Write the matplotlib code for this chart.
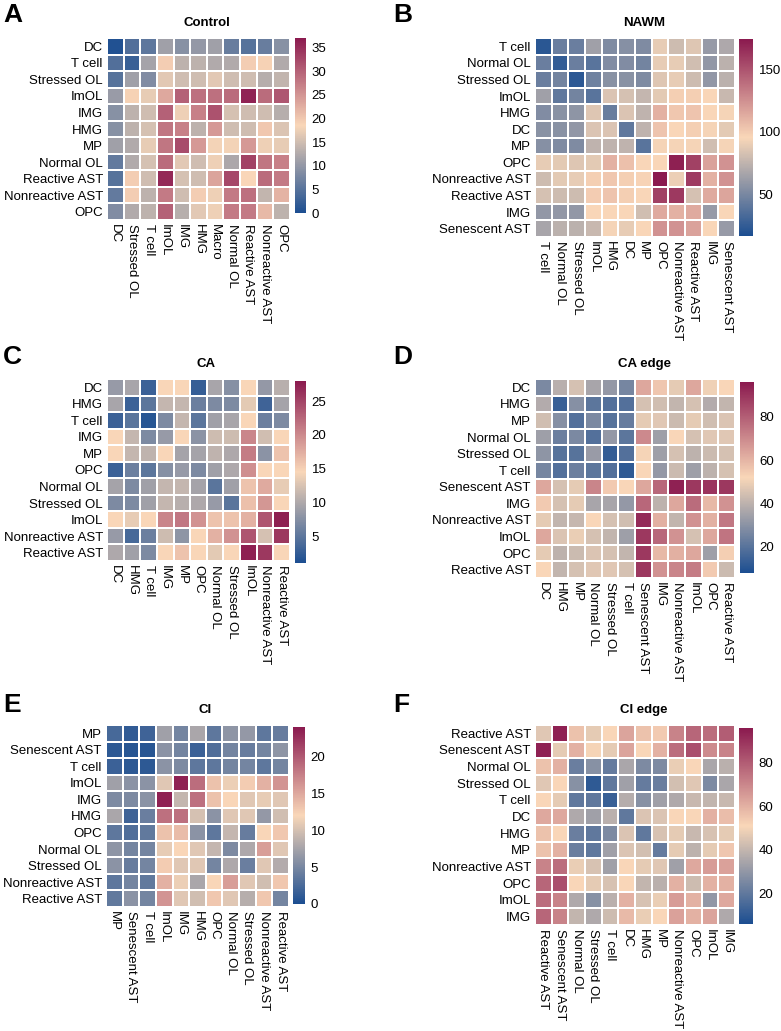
import matplotlib
matplotlib.use("Agg")
import matplotlib.pyplot as plt
import numpy as np
from matplotlib.colors import LinearSegmentedColormap

plt.rcParams['font.family'] = ['Liberation Sans', 'DejaVu Sans']

W, H = 781, 1031

# ---- data ----
ctrl_rows = ["DC", "T cell", "Stressed OL", "ImOL", "IMG", "HMG", "MP",
             "Normal OL", "Reactive AST", "Nonreactive AST", "OPC"]
ctrl_cols = ["DC", "Stressed OL", "T cell", "ImOL", "IMG", "HMG", "Macro",
             "Normal OL", "Reactive AST", "Nonreactive AST", "OPC"]
ctrl_vals = [
    [0.5, 4.5, 5.5, 11, 9, 10, 11, 6.5, 5, 6.5, 9],
    [4.5, 2.5, 11.5, 19.5, 13.5, 13.5, 12.5, 12.5, 19.5, 19, 12.5],
    [5, 11, 8.5, 16.5, 15, 15, 16.5, 15, 15, 13, 14],
    [10.5, 19, 17, 23, 30, 28.5, 28.5, 29, 36, 29, 31],
    [9, 13.5, 15, 30, 17.5, 27, 31.5, 15.5, 15, 15, 13],
    [9, 13.5, 15.5, 28, 27, 13.5, 24.5, 15, 15, 20, 16],
    [11, 12.5, 17, 28, 32, 24.5, 18, 18, 24.5, 17.5, 17],
    [6, 12.5, 15.5, 29, 16.5, 15, 17.5, 12, 33, 28, 27],
    [5, 19.5, 15, 35.5, 15.5, 15, 23.5, 32.5, 18.5, 29, 27.5],
    [6, 19.5, 13.5, 27.5, 15, 19.5, 17.5, 27.5, 28.5, 14, 22],
    [8.5, 12.5, 13.5, 30, 13, 16.5, 17.5, 27.5, 27.5, 21.5, 13.5],
]

nawm_labels = ["T cell", "Normal OL", "Stressed OL", "ImOL", "HMG", "DC", "MP",
               "OPC", "Nonreactive AST", "Reactive AST", "IMG", "Senescent AST"]
nawm_vals = [
    [22, 45, 45, 64, 52, 55, 52, 89, 80, 86, 61, 69],
    [45, 25, 45, 39, 53, 53, 48, 89, 89, 81, 59, 74],
    [45, 48, 23, 47, 56, 56, 52, 86, 89, 80, 59, 74],
    [64, 41, 48, 39, 85, 83, 77, 88, 99, 99, 96, 78],
    [53, 56, 58, 86, 44, 85, 75, 111, 102, 103, 96, 94],
    [56, 56, 59, 85, 85, 41, 75, 103, 96, 99, 94, 88],
    [55, 52, 52, 75, 75, 75, 39, 94, 94, 94, 81, 94],
    [89, 88, 86, 88, 111, 105, 96, 96, 171, 158, 117, 124],
    [80, 88, 89, 99, 102, 99, 97, 174, 91, 160, 111, 124],
    [83, 80, 80, 100, 103, 99, 96, 158, 161, 83, 114, 116],
    [59, 59, 59, 96, 96, 96, 81, 114, 111, 114, 61, 96],
    [67, 74, 74, 78, 94, 89, 96, 124, 124, 117, 96, 61],
]

ca_labels = ["DC", "HMG", "T cell", "IMG", "MP", "OPC", "Normal OL",
             "Stressed OL", "ImOL", "Nonreactive AST", "Reactive AST"]
ca_vals = [
    [8.5, 9.6, 2.9, 14.5, 14.5, 2.6, 9.6, 7.5, 14.5, 8.3, 10.5],
    [9.6, 2.9, 5, 11.3, 11.3, 5.9, 7, 7, 13.2, 3.2, 9.4],
    [2.9, 4.8, 1.8, 7, 11.3, 5, 9.1, 9.6, 14.5, 5.9, 7],
    [14.5, 11.3, 7, 8.5, 14.5, 7.8, 11.8, 11.8, 20.2, 12, 14.5],
    [14.5, 11.3, 11, 14.5, 9.4, 9.4, 11, 9.9, 21, 7.8, 15.9],
    [2.9, 5.9, 5, 7.5, 8.5, 7, 9.1, 9.9, 19.6, 14.5, 14.5],
    [9.4, 7, 9.1, 11.3, 11.3, 9.4, 4.8, 9.1, 15.9, 17.7, 13.4],
    [7, 7, 9.1, 11.3, 10.5, 9.9, 8.5, 4.8, 16.1, 19.1, 14.5],
    [14.5, 13.4, 14.5, 20.4, 21.3, 19.4, 15.9, 15.9, 17.2, 23.7, 27.5],
    [8.5, 3.7, 5.9, 11.8, 8, 14.5, 17.2, 19.4, 23.7, 12.3, 25.8],
    [9.9, 9.1, 7, 14.5, 15.9, 14.5, 13.2, 14.5, 27.5, 25.8, 14.5],
]

caedge_labels = ["DC", "HMG", "MP", "Normal OL", "Stressed OL", "T cell",
                 "Senescent AST", "IMG", "Nonreactive AST", "ImOL", "OPC", "Reactive AST"]
caedge_vals = [
    [27, 39, 45, 36, 32, 26, 63, 56, 48, 63, 50, 52],
    [38, 14, 29, 21, 19, 19, 45, 44, 41, 45, 38, 41],
    [44, 29, 19, 27, 20, 23, 48, 47, 43, 48, 44, 46],
    [34, 24, 27, 19, 32, 21, 70, 34, 52, 45, 47, 47],
    [31, 20, 20, 33, 13, 19, 51, 34, 45, 40, 43, 45],
    [26, 19, 24, 21, 19, 12, 52, 32, 43, 34, 40, 45],
    [63, 45, 48, 71, 55, 52, 63, 78, 94, 89, 90, 89],
    [55, 45, 48, 36, 36, 32, 78, 40, 63, 77, 59, 68],
    [48, 41, 42, 52, 45, 44, 92, 61, 41, 68, 61, 74],
    [63, 46, 49, 45, 41, 34, 89, 78, 68, 45, 63, 75],
    [48, 40, 43, 46, 45, 41, 89, 59, 61, 63, 34, 54],
    [52, 41, 45, 47, 47, 45, 89, 68, 71, 73, 55, 43],
]

ci_labels = ["MP", "Senescent AST", "T cell", "ImOL", "IMG", "HMG", "OPC",
             "Normal OL", "Stressed OL", "Nonreactive AST", "Reactive AST"]
ci_vals = [
    [2.4, 1.2, 1.9, 7.2, 4.8, 7.7, 3.6, 6.2, 6.5, 3.6, 4.1],
    [1, 0.7, 0.7, 6, 4.8, 1.7, 2.9, 4.8, 4.1, 4.8, 6.2],
    [1.7, 1, 1, 6, 5.3, 3.6, 3.6, 4.8, 4.8, 3.6, 4.8],
    [7.2, 6, 6, 10.6, 23.5, 18.7, 13.4, 11.3, 12.7, 14.4, 16.3],
    [5.3, 5.3, 6, 23.5, 9.1, 18.5, 13.4, 12, 10.6, 11, 10.6],
    [7.7, 1.9, 4.3, 18.5, 18.5, 10.1, 6, 10.6, 10.6, 6.5, 9.8],
    [3.6, 2.9, 3.8, 13.4, 13.7, 6, 3.6, 9.1, 4.1, 12, 13],
    [6.2, 4.8, 4.8, 11, 12, 10.6, 9.1, 5.3, 7.9, 15.6, 10.6],
    [6, 4.1, 4.8, 12.7, 10.6, 10.6, 4.8, 7.9, 4.3, 10.6, 8.2],
    [3.6, 4.8, 3.8, 14.4, 11.3, 7.7, 12, 15.6, 10.6, 9.8, 13],
    [3.8, 6, 4.8, 16.3, 10.6, 9.8, 13, 10.6, 8.4, 13, 4.8],
]

ciedge_labels = ["Reactive AST", "Senescent AST", "Normal OL", "Stressed OL", "T cell",
                 "DC", "HMG", "MP", "Nonreactive AST", "OPC", "ImOL", "IMG"]
ciedge_vals = [
    [46, 94, 56, 47, 51, 63, 56, 54, 71, 78, 76, 80],
    [94, 47, 60, 50, 47, 63, 51, 60, 76, 83, 69, 71],
    [56, 60, 22, 28, 21, 35, 26, 26, 48, 51, 35, 38],
    [46, 51, 28, 10, 20, 33, 21, 22, 43, 46, 26, 35],
    [51, 47, 20, 20, 12, 37, 28, 33, 36, 41, 40, 41],
    [62, 62, 36, 33, 38, 20, 45, 45, 51, 51, 60, 57],
    [56, 51, 22, 20, 26, 45, 20, 44, 47, 41, 44, 47],
    [56, 60, 22, 20, 33, 45, 43, 21, 47, 39, 47, 55],
    [71, 76, 48, 44, 33, 51, 47, 46, 33, 62, 65, 64],
    [78, 83, 51, 47, 44, 51, 40, 38, 60, 42, 60, 60],
    [76, 71, 36, 28, 38, 60, 44, 48, 65, 60, 30, 62],
    [78, 71, 40, 36, 42, 58, 48, 51, 64, 60, 63, 36],
]

cmap = LinearSegmentedColormap.from_list("bpm", ["#1c4e91", "#f9d7b8", "#8b1a4f"])

fig = plt.figure(figsize=(W / 100, H / 100), dpi=100)


def px_axes(x0, y0, x1, y1):
    return fig.add_axes([x0 / W, 1 - y1 / H, (x1 - x0) / W, (y1 - y0) / H])


def heatmap(box, cbox, rows, cols, vals, vmin, vmax, ticks, title, letter, letter_xy):
    ax = px_axes(*box)
    data = np.array(vals)
    m = ax.pcolormesh(data, cmap=cmap, vmin=vmin, vmax=vmax,
                      edgecolors="white", linewidth=1.2)
    ax.set_xlim(0, len(cols))
    ax.set_ylim(len(rows), 0)
    ax.set_xticks(np.arange(len(cols)) + 0.5)
    ax.set_yticks(np.arange(len(rows)) + 0.5)
    ax.set_xticklabels(cols, rotation=-90, va="top", ha="center", fontsize=9.5)
    ax.set_yticklabels(rows, fontsize=9.5)
    ax.tick_params(length=0, pad=3)
    for s in ax.spines.values():
        s.set_visible(False)
    cax = px_axes(*cbox)
    cb = fig.colorbar(m, cax=cax, ticks=ticks)
    cb.outline.set_visible(False)
    cax.tick_params(length=0, pad=4, labelsize=9.5)
    xc = (box[0] + cbox[2]) / 2
    fig.text(xc / W, 1 - (box[1] - 15) / H, title, fontsize=9.5,
             fontweight="bold", ha="center", va="center")
    fig.text(letter_xy[0] / W, 1 - letter_xy[1] / H, letter, fontsize=19,
             fontweight="bold", ha="left", va="center")


heatmap((107, 38, 290, 220), (295, 38, 306, 213), ctrl_rows, ctrl_cols, ctrl_vals,
        0, 37, [0, 5, 10, 15, 20, 25, 30, 35], "Control", "A", (3, 15))
heatmap((535, 38, 735, 237), (739, 39, 753, 236), nawm_labels, nawm_labels, nawm_vals,
        17, 174, [50, 100, 150], "NAWM", "B", (393, 15))
heatmap((107, 379, 290, 561), (295, 381, 306, 563), ca_labels, ca_labels, ca_vals,
        1, 28, [5, 10, 15, 20, 25], "CA", "C", (3, 357))
heatmap((535, 379, 735, 578), (740, 382, 754, 573), caedge_labels, caedge_labels, caedge_vals,
        8, 96, [20, 40, 60, 80], "CA edge", "D", (393, 357))
heatmap((106, 725, 289, 907), (293, 727, 305, 904), ci_labels, ci_labels, ci_vals,
        0, 24, [0, 5, 10, 15, 20], "CI", "E", (3, 705))
heatmap((535, 725, 735, 925), (739, 728, 753, 924), ciedge_labels, ciedge_labels, ciedge_vals,
        6, 96, [20, 40, 60, 80], "CI edge", "F", (393, 705))

fig.savefig("out.png", dpi=100, facecolor="white")
